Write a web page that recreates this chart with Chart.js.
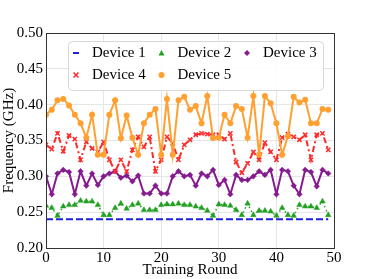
<!DOCTYPE html>
<html>
<head>
<meta charset="utf-8">
<script src="https://cdn.jsdelivr.net/npm/chart.js@4/dist/chart.umd.min.js"></script>
<style>
  body { margin: 0; background: #fff; }
  #wrap { width: 372px; height: 279px; }
</style>
</head>
<body>
<div id="wrap"><canvas id="freqChart" width="372" height="279"></canvas></div>
<script>
// training rounds (x values)
const rounds = [0, 1, 2, 3, 4, 5, 6, 7, 8, 9, 10, 11, 12, 13, 14, 15, 16, 17, 18, 19,
  20, 21, 22, 23, 24, 25, 26, 27, 28, 29, 30, 31, 32, 33, 34, 35, 36, 37, 38, 39,
  40, 41, 42, 43, 44, 45, 46, 47, 48, 49];

// frequency per device, GHz
const device1 = [0.24, 0.24, 0.24, 0.24, 0.24, 0.24, 0.24, 0.24, 0.24, 0.24,
  0.24, 0.24, 0.24, 0.24, 0.24, 0.24, 0.24, 0.24, 0.24, 0.24,
  0.24, 0.24, 0.24, 0.24, 0.24, 0.24, 0.24, 0.24, 0.24, 0.24,
  0.24, 0.24, 0.24, 0.24, 0.24, 0.24, 0.24, 0.24, 0.24, 0.24,
  0.24, 0.24, 0.24, 0.24, 0.24, 0.24, 0.24, 0.24, 0.24, 0.24];
const device2 = [0.259, 0.256, 0.245, 0.258, 0.260, 0.260, 0.266, 0.265, 0.265, 0.260,
  0.246, 0.246, 0.256, 0.262, 0.255, 0.260, 0.262, 0.253, 0.253, 0.253,
  0.260, 0.261, 0.261, 0.262, 0.260, 0.260, 0.258, 0.256, 0.252, 0.245,
  0.261, 0.260, 0.259, 0.253, 0.246, 0.262, 0.246, 0.252, 0.252, 0.251,
  0.245, 0.256, 0.246, 0.245, 0.260, 0.258, 0.258, 0.256, 0.265, 0.246];
const device3 = [0.300, 0.275, 0.304, 0.309, 0.306, 0.275, 0.307, 0.287, 0.304, 0.288,
  0.300, 0.304, 0.307, 0.298, 0.301, 0.293, 0.301, 0.276, 0.276, 0.287,
  0.276, 0.276, 0.300, 0.307, 0.300, 0.302, 0.287, 0.304, 0.300, 0.309,
  0.288, 0.295, 0.275, 0.302, 0.295, 0.295, 0.300, 0.307, 0.302, 0.309,
  0.275, 0.309, 0.307, 0.287, 0.275, 0.309, 0.306, 0.286, 0.309, 0.304];
const device4 = [0.344, 0.338, 0.360, 0.335, 0.357, 0.352, 0.323, 0.348, 0.339, 0.334,
  0.348, 0.323, 0.307, 0.323, 0.307, 0.337, 0.355, 0.341, 0.355, 0.307,
  0.323, 0.355, 0.346, 0.323, 0.344, 0.351, 0.358, 0.360, 0.359, 0.358,
  0.358, 0.352, 0.360, 0.320, 0.305, 0.318, 0.334, 0.323, 0.347, 0.334,
  0.323, 0.354, 0.359, 0.355, 0.351, 0.358, 0.323, 0.358, 0.360, 0.337];
const device5 = [0.386, 0.393, 0.406, 0.408, 0.399, 0.386, 0.374, 0.354, 0.386, 0.330,
  0.330, 0.386, 0.406, 0.353, 0.385, 0.354, 0.330, 0.374, 0.386, 0.394,
  0.330, 0.408, 0.330, 0.406, 0.411, 0.393, 0.398, 0.374, 0.412, 0.353,
  0.354, 0.386, 0.374, 0.398, 0.394, 0.354, 0.412, 0.330, 0.412, 0.402,
  0.374, 0.330, 0.356, 0.411, 0.403, 0.407, 0.374, 0.374, 0.394, 0.393];

const deviceNames = ['Device 1', 'Device 2', 'Device 3', 'Device 4', 'Device 5'];
const xTicks = [0, 10, 20, 30, 40, 50];
const yTicks = [0.20, 0.25, 0.30, 0.35, 0.40, 0.45, 0.50];

const FONT = "'Liberation Serif', 'Times New Roman', serif";

// pair up x and y values for a linear x axis
const toPoints = (vals) => rounds.map((r, i) => ({ x: r, y: vals[i] }));

// legend drawn inside the plot, matplotlib style (3 columns)
const innerLegend = {
  id: 'innerLegend',
  afterDatasetsDraw(chart) {
    const ctx = chart.ctx;
    const area = chart.chartArea;
    const bx = area.left + 22.5, by = area.top + 8.5;
    ctx.save();
    ctx.beginPath();
    ctx.roundRect(bx, by, 255, 49, 4);
    ctx.fillStyle = 'rgba(255,255,255,0.85)';
    ctx.fill();
    ctx.strokeStyle = '#d8d8d8';
    ctx.lineWidth = 1;
    ctx.stroke();

    ctx.font = '15px ' + FONT;
    ctx.textBaseline = 'middle';
    ctx.fillStyle = '#000';
    chart.data.datasets.forEach((ds, i) => {
      const col = i % 3, row = Math.floor(i / 3);
      const mx = area.left + 30 + col * 85.5;
      const my = area.top + 20 + row * 22;
      ctx.strokeStyle = ds.borderColor;
      ctx.fillStyle = ds.borderColor;
      ctx.lineWidth = 2;
      ctx.beginPath();
      if (i === 0) {
        ctx.moveTo(mx - 3, my);
        ctx.lineTo(mx + 3, my);
        ctx.stroke();
      } else if (i === 1) {
        ctx.moveTo(mx, my - 3);
        ctx.lineTo(mx + 3, my + 2.5);
        ctx.lineTo(mx - 3, my + 2.5);
        ctx.closePath();
        ctx.fill();
      } else if (i === 2) {
        ctx.moveTo(mx, my - 3);
        ctx.lineTo(mx + 3, my);
        ctx.lineTo(mx, my + 3);
        ctx.lineTo(mx - 3, my);
        ctx.closePath();
        ctx.fill();
      } else if (i === 3) {
        ctx.lineWidth = 1.5;
        ctx.moveTo(mx - 2.5, my - 2.5);
        ctx.lineTo(mx + 2.5, my + 2.5);
        ctx.moveTo(mx + 2.5, my - 2.5);
        ctx.lineTo(mx - 2.5, my + 2.5);
        ctx.stroke();
      } else {
        ctx.arc(mx, my, 3, 0, Math.PI * 2);
        ctx.fill();
      }
      ctx.fillStyle = '#000';
      ctx.fillText(ds.label, mx + 16, my + 0.5);
    });
    ctx.restore();
  }
};

// closes the box on the top and right sides
const frameBox = {
  id: 'frameBox',
  afterDraw(chart) {
    const { ctx, chartArea: a } = chart;
    ctx.save();
    ctx.strokeStyle = '#333';
    ctx.lineWidth = 1;
    ctx.strokeRect(Math.round(a.left) + 0.5, Math.round(a.top) + 0.5,
      Math.round(a.right - a.left), Math.round(a.bottom - a.top));
    ctx.restore();
  }
};

const renderChart = () => {
  const canvas = document.querySelector('#freqChart');

  new Chart(canvas, {
    type: 'line',
    data: {
      datasets: [
        {
          label: deviceNames[0],
          data: toPoints(device1),
          borderColor: '#1f1fe0',
          borderWidth: 2,
          borderDash: [7, 3],
          pointRadius: 0,
          order: 5,
        },
        {
          label: deviceNames[1],
          data: toPoints(device2),
          borderColor: '#22a022',
          backgroundColor: '#22a022',
          borderWidth: 1.5,
          borderDash: [1.5, 3],
          pointStyle: 'triangle',
          pointRadius: 3.2,
          pointBorderWidth: 0.5,
          order: 4,
        },
        {
          label: deviceNames[2],
          data: toPoints(device3),
          borderColor: '#861b8f',
          backgroundColor: '#861b8f',
          borderWidth: 2,
          pointStyle: 'rectRot',
          pointRadius: 2.8,
          pointBorderWidth: 0.5,
          order: 3,
        },
        {
          label: deviceNames[3],
          data: toPoints(device4),
          borderColor: '#ff2a2a',
          backgroundColor: '#ff2a2a',
          borderWidth: 2,
          borderDash: [6, 3, 2, 3],
          pointStyle: 'crossRot',
          pointRadius: 3,
          pointBorderWidth: 1.5,
          order: 2,
        },
        {
          label: deviceNames[4],
          data: toPoints(device5),
          borderColor: '#ffa030',
          backgroundColor: '#ffa030',
          borderWidth: 2,
          pointStyle: 'circle',
          pointRadius: 3,
          pointBorderWidth: 0,
          order: 1,
        },
      ],
    },
    options: {
      responsive: false,
      animation: false,
      layout: { padding: { top: 33, right: 38, left: 0, bottom: 0 } },
      plugins: {
        legend: { display: false },
        tooltip: { enabled: false },
      },
      scales: {
        x: {
          type: 'linear',
          min: xTicks[0],
          max: xTicks[xTicks.length - 1],
          afterBuildTicks: (s) => { s.ticks = xTicks.map((v) => ({ value: v })); },
          afterFit: (s) => { s.height = 31; },
          ticks: {
            color: '#000',
            font: { family: FONT, size: 15 },
            padding: 1,
            maxRotation: 0,
            autoSkip: false,
          },
          grid: { color: '#e6e6e6', drawTicks: false },
          border: { color: '#333', width: 1 },
          title: {
            display: true,
            text: 'Training Round',
            color: '#000',
            font: { family: FONT, size: 15 },
            padding: { top: 0, bottom: 0 },
          },
        },
        y: {
          min: yTicks[0],
          max: yTicks[yTicks.length - 1],
          afterBuildTicks: (s) => { s.ticks = yTicks.map((v) => ({ value: v })); },
          afterFit: (s) => { s.width = 46; },
          ticks: {
            color: '#000',
            font: { family: FONT, size: 15 },
            padding: 3,
            callback: (v) => Number(v).toFixed(2),
          },
          grid: { color: '#e6e6e6', drawTicks: false },
          border: { color: '#333', width: 1 },
          title: {
            display: true,
            text: 'Frequency (GHz)',
            color: '#000',
            font: { family: FONT, size: 15 },
            padding: { top: 0, bottom: 0 },
          },
        },
      },
    },
    plugins: [innerLegend, frameBox],
  });
};

renderChart();
</script>
</body>
</html>
